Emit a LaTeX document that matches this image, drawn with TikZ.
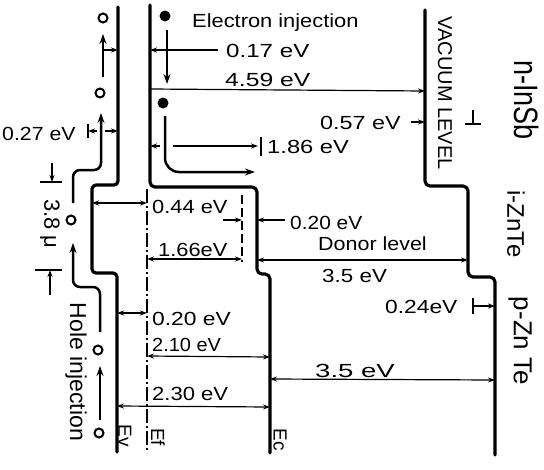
\documentclass[tikz,border=0pt]{standalone}
\usepackage{fontspec}
\setmainfont{Liberation Sans}
\usepackage{graphicx}
\usetikzlibrary{arrows.meta}
\newcommand{\hs}[2]{\scalebox{#1}[1]{#2}}
\newcommand{\vs}[2]{\scalebox{1}[#1]{#2}}
\begin{document}
\begin{tikzpicture}[x=1pt,y=-1pt,
  band/.style={line width=3.2pt, line join=round, line cap=round},
  dim/.style={line width=1.2pt},
  tip/.style={-{Stealth[length=7pt,width=5pt]}},
  tips/.style={{Stealth[length=7pt,width=5pt]}-{Stealth[length=7pt,width=5pt]}},
  carrier/.style={line width=2.5pt, -{Stealth[length=10pt,width=7pt]}},
  lbl/.style={font=\fontsize{19}{22}\selectfont, inner sep=0pt, anchor=base west},
  vlbl/.style={rotate=-90, inner sep=0pt},
  hole/.style={circle, draw, line width=2pt, minimum size=9pt, inner sep=0pt},
  elec/.style={circle, fill, minimum size=11pt, inner sep=0pt}]
\useasboundingbox (0,0) rectangle (544,469);

% band edges
\draw[band, rounded corners=4pt] (118,7) -- (118,185) -- (92,185) -- (92,273) -- (117,273) -- (117,452);
\draw[band, rounded corners=5pt] (150,5) -- (150,187) -- (257,187) -- (257,274) -- (270,274) -- (270,453);
\draw[band, rounded corners=5pt] (425,10) -- (425,186) -- (468,186) -- (468,277) -- (495,277) -- (495,455);
% Fermi level and donor level
\draw[line width=2.2pt, dash pattern=on 14pt off 3pt on 2pt off 3pt] (147,189) -- (147,453);
\draw[line width=1.6pt, dash pattern=on 9pt off 4pt] (242,195) -- (242,262);

% carriers
\node[elec] (e1) at (165,16) {};
\node[elec] (e2) at (163,103) {};
\draw[carrier] (167,30) -- (167,84);
\draw[carrier, rounded corners=14pt] (165,116) -- (165,172) -- (255,172);
\node[lbl] (tei) at (192,27) {\hs{1.15}{Electron injection}};

\node[hole] (h1) at (103,18) {};
\node[hole] (h2) at (100,93) {};
\node[hole] (h3) at (71,220) {};
\node[hole] (h4) at (98,350) {};
\node[hole] (h5) at (99,433) {};
\draw[carrier] (103,77) -- (103,34);
\draw[carrier, rounded corners=7pt] (73,203) -- (73,170) -- (101,170) -- (101,113);
\draw[carrier, rounded corners=7pt] (100,332) -- (100,287) -- (73,287) -- (73,243);
\draw[carrier] (100,420) -- (100,366);

% dimensions
\draw[dim,tip] (104,50) -- (118,50);
\draw[dim,tip] (218,50) -- (150,50);
\node[lbl] (t017) at (226,57) {\hs{1.27}{0.17 eV}};

\draw[dim,tip] (150,89) -- (425,91);
\node[lbl] (t459) at (225,86) {\hs{1.3}{4.59 eV}};

\draw[dim] (88,124) -- (88,138);
\draw[dim,tip] (97,131) -- (88,131);
\draw[dim,tip] (105,131) -- (118,131);
\node[lbl] (t027) at (2,140) {\hs{1.12}{0.27 eV}};

\draw[dim,tip] (411,122) -- (425,122);
\draw[dim] (473,110) -- (473,124);
\draw[dim] (465,124) -- (481,124);
\node[lbl] (t057) at (320,129) {\hs{1.23}{0.57 eV}};

\draw[dim,tip] (160,146) -- (150,146);
\draw[dim,tip] (173,146) -- (258,146);
\draw[dim] (261,137) -- (261,156);
\node[lbl] (t186) at (267,153) {\hs{1.25}{1.86 eV}};

\draw[dim,tips] (92,203) -- (147,203);
\node[lbl] (t044) at (152,213) {\hs{1.15}{0.44 eV}};

\draw[dim,tips] (147,259) -- (242,259);
\node[lbl] (t166) at (158,256) {\hs{1.15}{1.66eV}};

\draw[dim,tip] (223,220) -- (242,220);
\draw[dim,tip] (285,220) -- (257,220);
\node[lbl] (t020a) at (290,229) {\hs{1.1}{0.20 eV}};
\node[lbl] (tdon) at (318,250) {\hs{1.13}{Donor level}};

\draw[dim,tips] (257,260) -- (468,260);
\node[lbl] (t35a) at (322,282) {\hs{1.18}{3.5 eV}};

\draw[dim] (473,298) -- (473,314);
\draw[dim,tip] (473,306) -- (495,306);
\node[lbl] (t024) at (385,313) {\hs{1.2}{0.24eV}};

\draw[dim,tips] (270,379) -- (495,380);
\node[lbl] (t35b) at (315,377) {\hs{1.45}{3.5 eV}};

\draw[dim,tips] (117,313) -- (147,313);
\node[lbl] (t020b) at (152,325) {\hs{1.2}{0.20 eV}};

\draw[dim,tips] (147,356) -- (270,357);
\node[lbl] (t210) at (152,351) {\hs{1.05}{2.10 eV}};

\draw[dim,tips] (117,406) -- (270,407);
\node[lbl] (t230) at (152,400) {\hs{1.16}{2.30 eV}};

% 3.8 micron thickness
\draw[dim,tip] (52,163) -- (52,182);
\draw[dim] (40,182) -- (62,182);
\draw[dim] (35,270) -- (62,270);
\draw[dim,tip] (50,295) -- (50,270);
\node[vlbl, font=\fontsize{22}{24}\selectfont] (t38) at (50,224) {3.8 μ};

% rotated labels
\node[vlbl, font=\fontsize{20}{22}\selectfont] (tvac) at (445,93) {VACUUM LEVEL};
\node[vlbl, font=\fontsize{27}{30}\selectfont] (tinsb) at (527,100) {\vs{1.25}{n-InSb}};
\node[vlbl, font=\fontsize{24}{26}\selectfont] (tizn) at (516,224) {i-ZnTe};
\node[vlbl, font=\fontsize{26}{28}\selectfont] (tpzn) at (520,341) {p-Zn Te};
\node[vlbl, font=\fontsize{23}{25}\selectfont] (thole) at (76,372) {Hole injection};
\node[vlbl, font=\fontsize{19}{21}\selectfont] (tev) at (125,436) {Ev};
\node[vlbl, font=\fontsize{19}{21}\selectfont] (tef) at (158,437) {Ef};
\node[vlbl, font=\fontsize{19}{21}\selectfont] (tec) at (280,440) {Ec};
\end{tikzpicture}
\end{document}
